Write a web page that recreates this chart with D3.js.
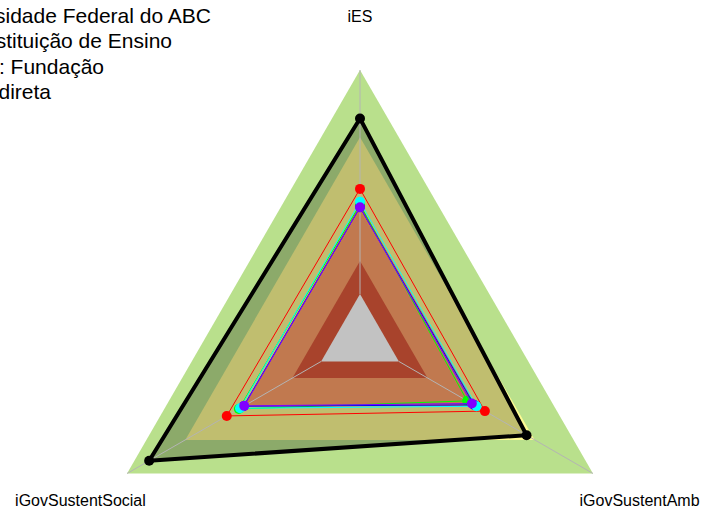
<!DOCTYPE html>
<html>
<head>
<meta charset="utf-8">
<script src="https://cdn.jsdelivr.net/npm/d3@7"></script>
<style>
  body { margin: 0; background: #fff; }
  svg { display: block; font-family: "Liberation Sans", Arial, sans-serif; }
</style>
</head>
<body>
<svg id="chart_svg" width="702" height="513"></svg>
<script>
// axes of the radar, clockwise from the top
var axisNames = ["iES", "iGovSustentAmb", "iGovSustentSocial"];

// background bands (outer edge, as a share of the radius)
var bandLevels = [1.0, 0.75, 0.5, 0.29, 0.167];
var bandColors = ["#b9e08c", "#fdfa93", "#fe9f69", "#dd593a", "#ffffff"];

// series values per axis (iES, iGovSustentAmb, iGovSustentSocial)
var ufabc = [0.82, 0.715, 0.905];
var serieRed = [0.558, 0.536, 0.572];
var serieGreen = [0.50, 0.46, 0.52];
var serieBlue = [0.49, 0.49, 0.50];
var serieCyan = [0.51, 0.50, 0.515];
var seriePurple = [0.49, 0.48, 0.497];
var seriesColors = ["#000000", "#ff0000", "#00ff00", "#0000ff", "#00ffff", "#8000ff"];

var legendLabels = ["Universidade Federal do ABC", "Tipo Instituição de Ensino", "Tipo Org.: Fundação", "Adm. Indireta"];

window.addEventListener("load", drawRadar);

function drawRadar() {
  var svg = d3.select("#chart_svg");
  var cx = 360, cy = 339, R = 269;

  var r = d3.scaleLinear().domain([0, 1]).range([0, R]);
  // three axes, 120 degrees apart, first one pointing up
  function ang(i) { return (-90 + i * 120) * Math.PI / 180; }

  function pointsFor(vals) {
    return vals.map(function (v, i) {
      return [cx + r(v) * Math.cos(ang(i)), cy + r(v) * Math.sin(ang(i))];
    });
  }
  var line = d3.line().curve(d3.curveLinearClosed);

  // bands
  svg.append("g").selectAll("path").data(bandLevels).enter().append("path")
    .attr("d", function (d) { return line(pointsFor([d, d, d])); })
    .attr("fill", function (d, i) { return bandColors[i]; })
    .attr("stroke", "none");

  var allSeries = [ufabc, serieRed, serieGreen, serieBlue, serieCyan, seriePurple];

  // UFABC shaded area
  svg.append("path")
    .attr("d", line(pointsFor(ufabc)))
    .attr("fill", "rgba(0,0,0,0.24)")
    .attr("stroke", "none");

  // axis lines
  svg.append("g").selectAll("line").data(axisNames).enter().append("line")
    .attr("x1", function (d, i) { return cx + r(0.167) * Math.cos(ang(i)); })
    .attr("y1", function (d, i) { return cy + r(0.167) * Math.sin(ang(i)); })
    .attr("x2", function (d, i) { return cx + r(1) * Math.cos(ang(i)); })
    .attr("y2", function (d, i) { return cy + r(1) * Math.sin(ang(i)); })
    .attr("stroke", "#b4b4b4")
    .attr("stroke-width", 1);

  // series lines and points
  allSeries.forEach(function (vals, s) {
    var g = svg.append("g");
    g.append("path")
      .attr("d", line(pointsFor(vals)))
      .attr("fill", "none")
      .attr("stroke", seriesColors[s])
      .attr("stroke-width", s === 0 ? 4 : 1)
      .attr("stroke-linejoin", "miter");
    g.selectAll("circle").data(pointsFor(vals)).enter().append("circle")
      .attr("cx", function (d) { return d[0]; })
      .attr("cy", function (d) { return d[1]; })
      .attr("r", 5)
      .attr("fill", seriesColors[s]);
  });

  // axis labels at 1.2 x radius
  svg.append("g").selectAll("text").data(axisNames).enter().append("text")
    .attr("x", function (d, i) { return cx + r(1.2) * Math.cos(ang(i)); })
    .attr("y", function (d, i) { return cy + r(1.2) * Math.sin(ang(i)); })
    .attr("dy", "0.36em")
    .attr("text-anchor", "middle")
    .attr("font-size", 16)
    .attr("fill", "#000")
    .text(function (d) { return d; });

  // legend (runs off the left edge, as in the original)
  var legendEnds = [211, 172, 104, 51];
  svg.append("g").selectAll("text").data(legendLabels).enter().append("text")
    .attr("x", function (d, i) { return legendEnds[i]; })
    .attr("y", function (d, i) { return 22.5 + i * 25.5; })
    .attr("text-anchor", "end")
    .attr("font-size", 21)
    .attr("fill", "#000")
    .text(function (d) { return d; });
}
</script>
</body>
</html>
